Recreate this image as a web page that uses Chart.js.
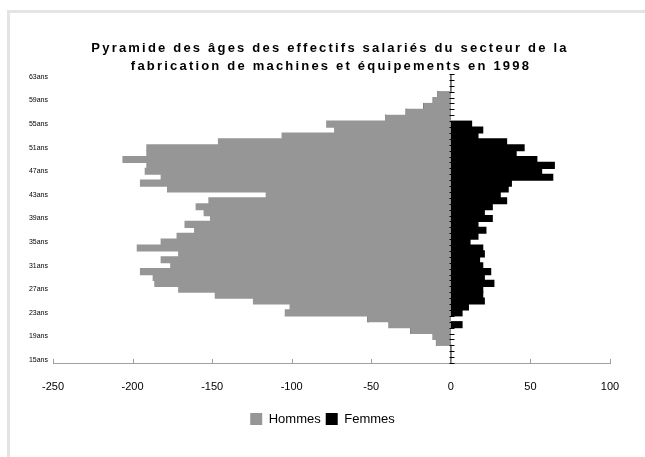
<!DOCTYPE html>
<html><head><meta charset="utf-8">
<script src="https://cdn.jsdelivr.net/npm/chart.js@4.4.1/dist/chart.umd.min.js"></script>
<style>
html,body{margin:0;padding:0;background:#fff;overflow:hidden;}
#frame{position:absolute;left:7px;top:10px;width:700px;height:500px;border-left:3px solid #e4e4e4;border-top:3px solid #e4e4e4;}
#wrap{position:absolute;left:0;top:0;width:645px;height:457px;}
</style></head><body>
<div id="frame"></div>
<div id="wrap"><canvas id="c" width="645" height="457"></canvas></div>
<script>
const titleLines = ['Pyramide des âges des effectifs salariés du secteur de la', 'fabrication de machines et équipements en 1998'];
const ages = ['15ans','16ans','17ans','18ans','19ans','20ans','21ans','22ans','23ans','24ans','25ans','26ans','27ans','28ans','29ans','30ans','31ans','32ans','33ans','34ans','35ans','36ans','37ans','38ans','39ans','40ans','41ans','42ans','43ans','44ans','45ans','46ans','47ans','48ans','49ans','50ans','51ans','52ans','53ans','54ans','55ans','56ans','57ans','58ans','59ans','60ans','61ans','62ans','63ans'];
const tickLabels = ['15ans','19ans','23ans','27ans','31ans','35ans','39ans','43ans','47ans','51ans','55ans','59ans','63ans'];
const hommes = [0,0,0,-9,-11,-25,-39,-52,-104,-101,-124,-148,-171,-186,-187,-195,-176,-182,-171,-197,-182,-172,-161,-167,-151,-155,-160,-152,-116,-178,-195,-182,-192,-191,-206,-191,-191,-146,-106,-73,-78,-41,-28,-17,-11,-8,0,0,0];
const femmes = [0,0,0,0,0,0,7,0,7,11,21,20,20,27,21,25,20,18,21,20,12,17,22,17,26,21,26,35,31,36,38,64,57,65,54,41,46,35,17,20,13,0,0,0,0,0,0,0,0];
const xTicks = [-250,-200,-150,-100,-50,0,50,100];

const FONT = "'Liberation Sans', Arial, sans-serif";
Chart.defaults.font.family = FONT;

const axisTicks = {
  id: 'axisTicks',
  afterDraw(chart) {
    const {ctx, scales: {x, y}, chartArea: a} = chart;
    ctx.save();
    ctx.lineWidth = 1;
    ctx.strokeStyle = '#a0a0a0';
    x.ticks.forEach(t => {
      const px = Math.round(x.getPixelForValue(t.value)) + 0.5;
      ctx.beginPath(); ctx.moveTo(px, a.bottom); ctx.lineTo(px, a.bottom - 4); ctx.stroke();
    });
    ctx.strokeStyle = '#000';
    const x0 = Math.round(x.getPixelForValue(0)) + 0.5;
    const n = ages.length;
    const c0 = y.getPixelForValue(0);
    const step = y.getPixelForValue(1) - c0;
    for (let k = 0; k <= n; k++) {
      const py = Math.round(c0 + (k - 0.5) * step) + 0.5;
      ctx.beginPath(); ctx.moveTo(x0 - 2, py); ctx.lineTo(x0 + 3, py); ctx.stroke();
    }
    ctx.fillStyle = '#000';
    ctx.font = 'bold 13px ' + FONT;
    ctx.textAlign = 'center';
    ctx.textBaseline = 'middle';
    try { ctx.letterSpacing = '2.2px'; } catch (e) {}
    ctx.fillText(titleLines[0], 330, 48);
    ctx.fillText(titleLines[1], 331, 66);
    ctx.restore();
  }
};

new Chart(document.getElementById('c'), {
  type: 'bar',
  data: {
    labels: ages,
    datasets: [
      {label: 'Hommes', data: hommes, backgroundColor: '#969696'},
      {label: 'Femmes', data: femmes, backgroundColor: '#000000'}
    ]
  },
  options: {
    indexAxis: 'y',
    responsive: false,
    animation: false,
    layout: {padding: {top: 74, left: 0, right: 0, bottom: 21.5}},
    datasets: {bar: {barPercentage: 1, categoryPercentage: 1, borderWidth: 0, inflateAmount: 0.6}},
    plugins: {
      legend: {
        position: 'bottom',
        labels: {boxWidth: 12, boxHeight: 12, padding: 5, color: '#000', font: {size: 13}}
      },
      tooltip: {enabled: false},
      title: {display: false}
    },
    scales: {
      x: {
        type: 'linear', min: -250, max: 100, stacked: true, z: 1,
        afterBuildTicks: s => { s.ticks = xTicks.map(v => ({value: v})); },
        ticks: {padding: 17, color: '#000', font: {size: 11}},
        grid: {drawTicks: false, lineWidth: 1, color: c => (c.tick && c.tick.value === 0) ? '#000' : 'rgba(0,0,0,0)'},
        border: {display: true, color: '#a0a0a0', width: 1},
        afterFit: s => { s.height = 44.5; }
      },
      y: {
        type: 'category', reverse: true, stacked: true,
        grid: {display: false, drawTicks: false}, border: {display: false},
        ticks: {
          autoSkip: false, padding: 5, color: '#000', font: {size: 7},
          callback: function (v) { const l = this.getLabelForValue(v); return tickLabels.includes(l) ? l : ''; }
        },
        afterFit: s => { s.width = 53; }
      },
      y2: {
        type: 'category', position: 'right', display: true,
        grid: {display: false, drawTicks: false}, border: {display: false}, ticks: {display: false},
        afterFit: s => { s.width = 35; }
      }
    }
  },
  plugins: [axisTicks]
});
</script>
</body></html>
